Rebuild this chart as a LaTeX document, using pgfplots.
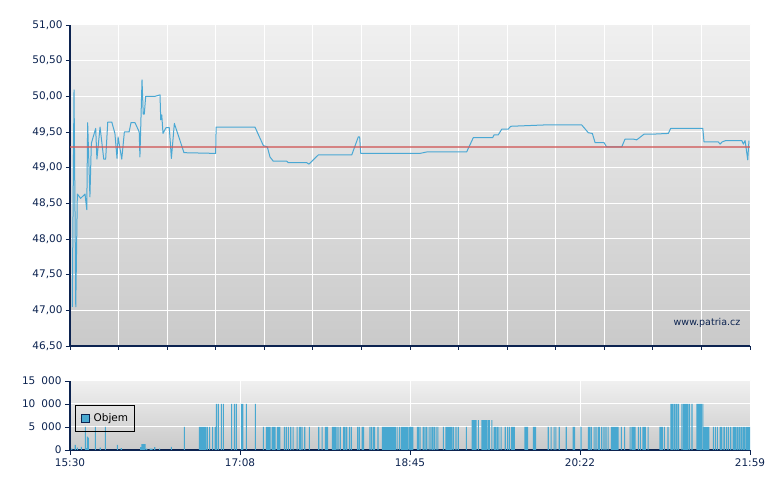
\documentclass[border=0pt]{standalone}
\usepackage{fontspec}
\setmainfont{DejaVu Sans}
\usepackage{pgfplots}
\pgfplotsset{compat=1.18}

\definecolor{navy}{HTML}{0C2350}
\definecolor{priceblue}{HTML}{4AA8D4}
\definecolor{barblue}{HTML}{48A8D0}
\definecolor{refred}{HTML}{D05A5A}

\pgfplotsset{
  patria/.style={
    scale only axis,
    anchor=south west,
    width=680pt,
    xmin=0, xmax=389,
    enlargelimits=false,
    axis x line*=bottom,
    axis y line*=left,
    axis line style={navy, line width=1.2pt},
    tick style={navy, line width=0.8pt},
    tick align=outside,
    grid=major,
    major grid style={white, line width=1pt},
    ticklabel style={font=\fontsize{10.5}{12}\selectfont, text=navy},
    scaled y ticks=false,
  }
}

\begin{document}
\begin{tikzpicture}[x=1pt,y=1pt]
\useasboundingbox (0,0) rectangle (780,490);

% price
\begin{axis}[patria,
  at={(70pt,144pt)},
  height=321pt,
  axis background/.style={shade, top color=black!6, bottom color=black!21},
  ymin=46.5, ymax=51,
  ytick={46.5,47,47.5,48,48.5,49,49.5,50,50.5,51},
  yticklabels={{46,50},{47,00},{47,50},{48,00},{48,50},{49,00},{49,50},{50,00},{50,50},{51,00}},
  xtick={0,27.79,55.57,83.36,111.14,138.93,166.71,194.5,222.29,250.07,277.86,305.64,333.43,361.21,389},
  xticklabels={},
  major tick length=4pt,
]
\addplot[priceblue, line width=1pt, line join=round] coordinates {
(1.3,47.05) (2.3,50.09) (3.3,47.05) (4.2,48.63) (6.1,48.57) (8.6,48.63)
(9.6,48.41) (10.1,49.63) (11.4,48.59) (12.2,49.34) (14.7,49.55) (15.4,49.12)
(17.2,49.57) (19.3,49.12) (20.4,49.12) (21.6,49.64) (23.9,49.64) (25.7,49.48)
(26.9,49.13) (27.5,49.43) (29.6,49.12) (31.1,49.50) (33.8,49.50) (34.9,49.63)
(37.2,49.63) (39.6,49.50) (40.0,49.15) (41.2,50.23) (41.9,49.75) (42.5,49.75)
(43.3,50.00) (48.6,50.00) (51.5,50.02) (51.9,49.67) (52.5,49.74) (53.2,49.48)
(54.9,49.56) (56.8,49.56) (58.0,49.13) (59.7,49.62) (65.2,49.21) (83.3,49.20)
(83.6,49.57) (105.8,49.57) (110.6,49.31) (112.9,49.29) (114.4,49.15) (116.3,49.09)
(124.0,49.09) (124.9,49.07) (135.4,49.07) (136.7,49.05) (142.1,49.18) (161.2,49.18)
(164.9,49.43) (165.7,49.43) (166.3,49.20) (200.2,49.20) (204.1,49.22) (226.9,49.22)
(230.7,49.42) (241.8,49.42) (242.6,49.46) (245.0,49.46) (247.0,49.54) (250.7,49.54)
(252.1,49.58) (272.7,49.60) (292.7,49.60) (296.5,49.49) (298.8,49.48) (300.4,49.35)
(305.5,49.35) (307.0,49.29) (315.6,49.29) (317.5,49.40) (322.3,49.40) (324.2,49.39)
(328.4,49.47) (333.7,49.47) (342.3,49.48) (343.6,49.55) (362.0,49.55) (362.7,49.36)
(370.9,49.36) (371.9,49.33) (373.0,49.36) (375.1,49.38) (384.3,49.38) (385.2,49.33)
(386.2,49.38) (387.7,49.11) (388.4,49.38)
};
\addplot[refred, opacity=0.7, line width=1.5pt] coordinates {(0,49.29) (389,49.29)};
\node[anchor=east, text=navy, font=\fontsize{9.5}{11}\selectfont] at (rel axis cs:0.991,0.072) {www.patria.cz};
\end{axis}

% volume
\begin{axis}[patria,
  at={(70pt,40pt)},
  height=69pt,
  axis background/.style={shade, top color=black!6, bottom color=black!21},
  ymin=0, ymax=15000,
  ytick={0,5000,10000,15000},
  yticklabels={0,5\hspace{6pt}000,10\hspace{6pt}000,15\hspace{6pt}000},
  xtick={0,97.25,194.5,291.75,389},
  xticklabels={15:30,17:08,18:45,20:22,21:59},
  major tick length=5pt,
  legend style={at={(rel axis cs:0.008,0.65)}, anchor=north west,
    draw=black, fill=none, font=\fontsize{10.5}{12}\selectfont,
    inner xsep=4pt, inner ysep=6pt},
  legend image code/.code={
    \path (0pt,0pt) -- (12pt,0pt);
    \draw[fill=barblue, draw=navy, line width=0.6pt] (2pt,-4pt) rectangle (10pt,4pt);},
]
\addplot[ybar, bar width=0.62, fill=barblue, draw=none] coordinates {
(1.0,300) (3.0,1100) (4.2,500) (6.5,700) (8.8,5000) (9.3,400) (9.9,2900) (10.5,2700)
(14.5,5000) (17.3,500) (20.2,5000) (27.1,1100) (29.3,400) (40.4,600)
(41.2,1300) (41.7,1300) (42.2,1300) (42.7,1300) (42.9,1300) (43.9,300)
(45.8,300) (46.3,300) (46.9,300) (48.5,650) (51.3,300) (58.0,700)
(65.4,5000)
(74.0,5000) (74.5,5000) (75.0,5000) (75.5,5000) (76.0,5000) (76.5,5000) (77.0,5000) (77.6,5000)
(78.5,5000) (79.9,5000) (81.6,5000) (83.0,5000)
(83.7,10000) (84.8,10000) (86.6,10000) (87.7,10000) (92.5,10000) (94.0,10000) (95.1,10000)
(98.0,10000) (98.8,10000) (100.9,10000) (106.0,10000)
(110.6,5000) (112.3,5000) (112.9,5000) (113.7,5000) (114.4,5000)
(115.6,5000) (116.1,5000) (116.7,5000) (117.3,5000)
(118.6,5000) (119.2,5000) (120.0,5000) (122.6,5000) (123.7,5000) (124.9,5000)
(126.3,5000) (127.6,5000) (129.9,5000) (131.2,5000) (131.8,5000) (132.7,5000)
(134.3,5000) (136.9,5000) (142.3,5000) (144.2,5000) (146.1,5000) (146.7,5000) (147.4,5000)
(150.1,5000) (150.6,5000) (151.2,5000) (151.7,5000) (152.2,5000)
(153.3,5000) (154.6,5000) (156.6,5000) (157.3,5000) (158.3,5000) (159.8,5000) (160.9,5000)
(164.6,5000) (165.5,5000) (167.2,5000) (168.0,5000) (171.6,5000) (172.6,5000)
(173.7,5000) (174.3,5000) (176.2,5000)
(178.7,5000) (179.2,5000) (179.7,5000) (180.2,5000) (180.7,5000) (181.2,5000)
(181.9,5000) (182.4,5000) (182.9,5000) (183.4,5000) (183.9,5000) (184.4,5000) (184.9,5000) (185.4,5000) (186.1,5000)
(187.1,5000) (188.4,5000)
(189.5,5000) (190.0,5000) (190.5,5000) (191.0,5000) (191.5,5000) (192.0,5000) (192.5,5000) (193.2,5000)
(194.1,5000) (194.6,5000) (195.1,5000) (195.6,5000) (196.1,5000)
(198.7,5000) (199.2,5000) (200.2,5000) (202.1,5000) (203.1,5000) (204.1,5000) (205.4,5000)
(206.5,5000) (207.5,5000) (208.4,5000) (209.4,5000) (210.4,5000) (213.6,5000)
(215.1,5000) (215.6,5000) (216.1,5000) (216.6,5000) (217.1,5000) (217.6,5000) (218.1,5000) (218.6,5000) (219.5,5000)
(220.8,5000) (222.1,5000) (226.7,5000)
(230.0,6500) (230.5,6500) (231.0,6500) (231.6,6500) (232.3,6500) (233.6,6500)
(235.7,6500) (236.3,6500) (236.9,6500) (237.6,6500) (238.2,6500) (239.1,6500)
(239.9,6500) (241.3,6500)
(242.7,5000) (243.4,5000) (244.4,5000) (245.3,5000) (246.6,5000) (249.0,5000)
(250.4,5000) (251.5,5000) (252.7,5000) (253.4,5000) (254.2,5000)
(260.3,5000) (261.0,5000) (261.8,5000) (265.1,5000) (265.7,5000) (266.4,5000)
(273.6,5000) (275.2,5000) (276.9,5000) (277.9,5000) (279.9,5000) (283.9,5000)
(287.9,5000) (288.7,5000) (292.3,5000) (296.5,5000) (297.3,5000) (298.2,5000)
(299.8,5000) (300.9,5000) (302.1,5000) (302.8,5000) (304.2,5000) (305.5,5000)
(306.6,5000) (307.8,5000)
(309.7,5000) (310.2,5000) (310.7,5000) (311.2,5000) (311.7,5000) (312.2,5000) (312.7,5000) (313.2,5000) (313.5,5000)
(315.4,5000) (317.3,5000) (320.4,5000) (321.5,5000) (322.2,5000) (322.8,5000) (323.2,5000)
(325.1,5000) (326.3,5000) (327.8,5000) (328.5,5000) (329.1,5000) (330.7,5000)
(337.5,5000) (338.2,5000) (338.9,5000) (340.0,5000) (342.1,5000)
(343.8,10000) (344.4,10000) (345.0,10000) (345.9,10000)
(346.7,10000) (347.3,10000) (348.2,10000) (350.1,10000) (351.1,10000)
(351.8,10000) (352.4,10000) (353.0,10000) (353.6,10000) (354.5,10000) (355.8,10000)
(358.7,10000) (359.2,10000) (359.7,10000) (360.2,10000) (360.7,10000) (361.2,10000) (362.0,10000)
(362.7,5000) (363.2,5000) (363.7,5000) (364.2,5000) (364.7,5000) (365.4,5000)
(368.0,5000) (369.2,5000) (370.3,5000) (371.9,5000) (372.6,5000) (373.6,5000)
(374.5,5000) (375.7,5000) (376.8,5000) (378.0,5000)
(379.3,5000) (379.8,5000) (380.3,5000) (380.8,5000) (381.7,5000)
(382.7,5000) (383.3,5000) (384.3,5000) (385.2,5000) (385.8,5000) (386.7,5000)
(387.5,5000) (388.1,5000) (388.8,5000)
};
\addlegendentry{Objem}
\end{axis}
\end{tikzpicture}
\end{document}
